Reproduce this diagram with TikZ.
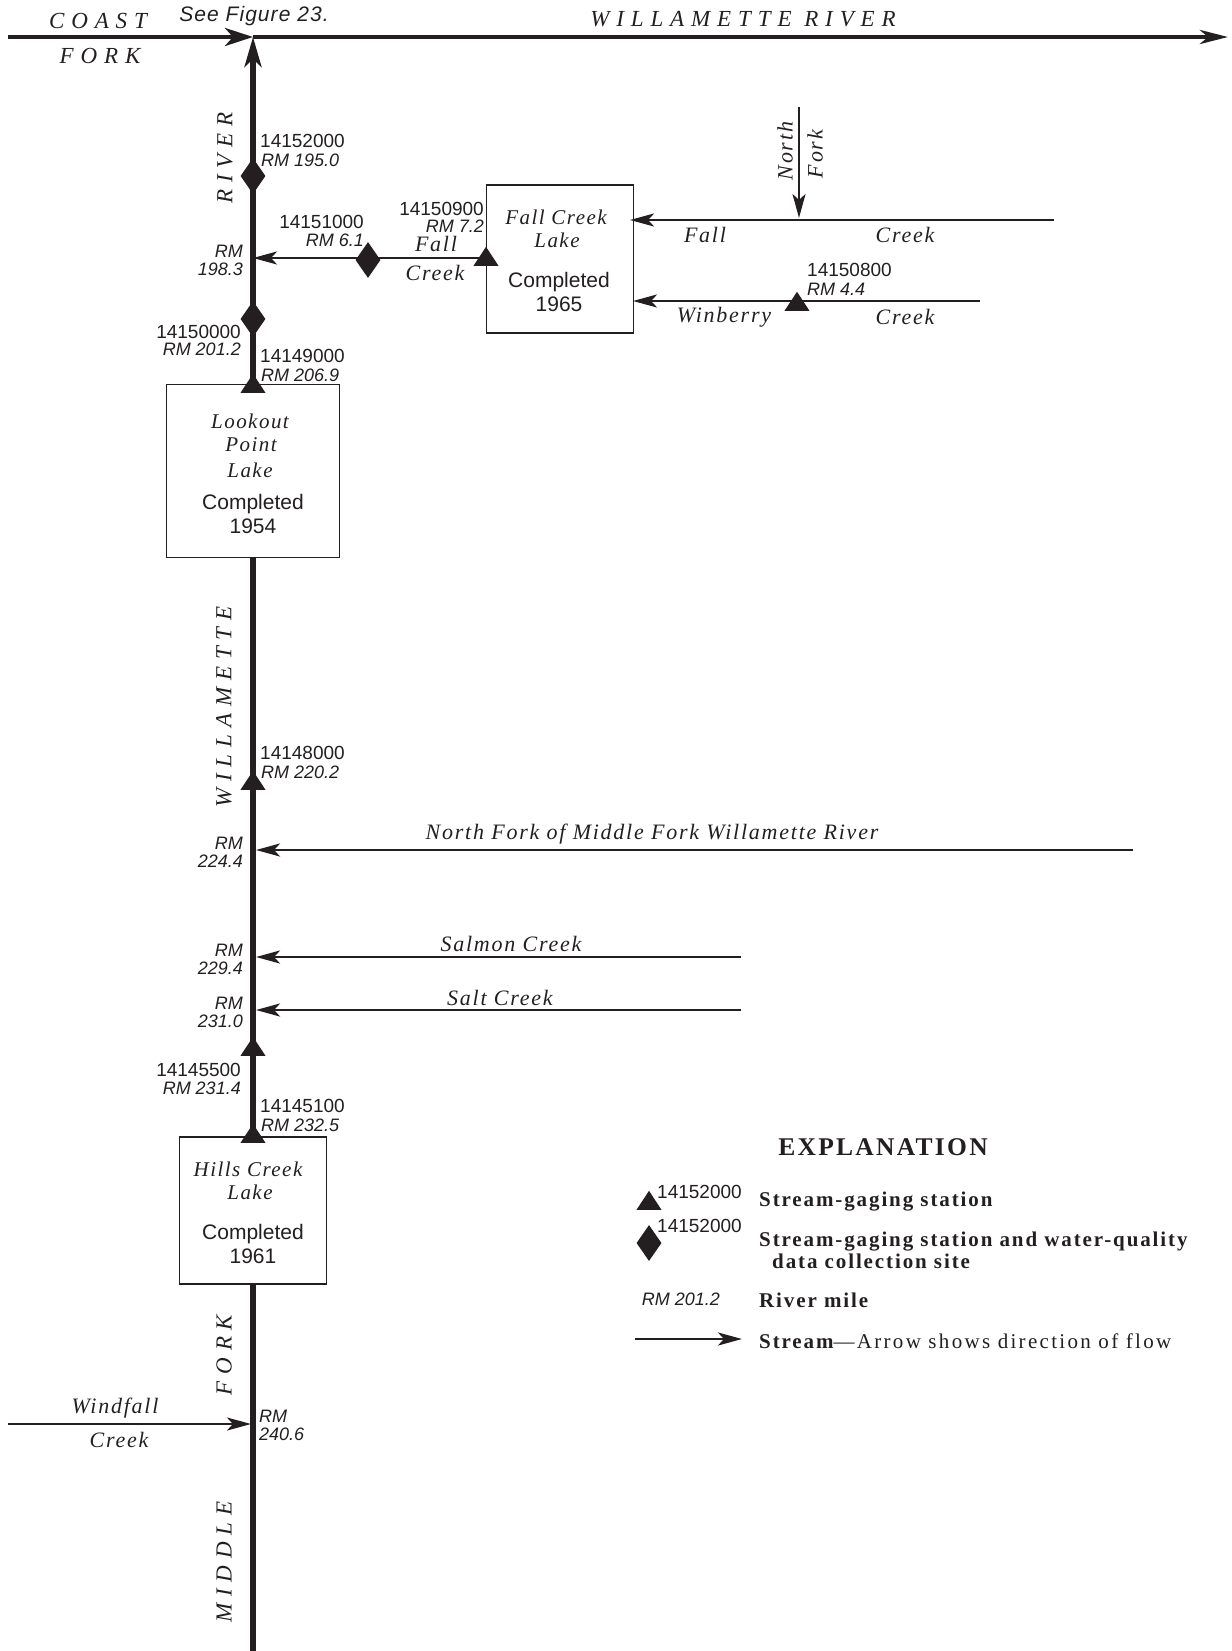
\documentclass[tikz,border=0pt]{standalone}
\usepackage{fontspec}
\usetikzlibrary{arrows.meta,shapes.geometric}
\newfontfamily\numf{Liberation Sans}
\newfontfamily\rmf{Liberation Sans}
\newfontfamily\labf[LetterSpace=8]{Liberation Serif}
\newfontfamily\lakef[LetterSpace=7]{Liberation Serif}
\newfontfamily\widef[LetterSpace=30]{Liberation Serif}
\newfontfamily\legf[LetterSpace=9]{Liberation Serif}
\newfontfamily\legrf[LetterSpace=11]{Liberation Serif}
\newfontfamily\seef[LetterSpace=5]{Liberation Sans}
\definecolor{ink}{HTML}{231F20}
\tikzset{
 gnum/.style={font=\numf\fontsize{19}{19}\selectfont,text=ink,inner sep=0pt},
 grm/.style={font=\rmf\itshape\fontsize{18}{19}\selectfont,text=ink,inner sep=0pt},
 glab/.style={font=\labf\itshape\fontsize{22}{23}\selectfont,text=ink,inner sep=0pt},
 glake/.style={font=\lakef\itshape\fontsize{21}{23}\selectfont,text=ink,inner sep=0pt},
 gwide/.style={font=\widef\itshape\fontsize{23}{24}\selectfont,text=ink,inner sep=0pt},
 gdone/.style={font=\numf\fontsize{21}{24}\selectfont,text=ink,inner sep=0pt,align=center},
 gleg/.style={font=\legf\bfseries\fontsize{21}{22}\selectfont,text=ink,inner sep=0pt,anchor=west},
 lake/.style={draw=ink,line width=1.1pt,fill=white,inner sep=0pt},
 stn/.style={isosceles triangle,isosceles triangle stretches,shape border rotate=90,fill=ink,inner sep=0pt,minimum width=25pt,minimum height=19pt,anchor=south},
 qual/.style={diamond,fill=ink,inner sep=0pt,minimum width=25pt,minimum height=36pt},
 stream/.style={draw=ink,line width=2.6pt,-{Stealth[length=24pt,width=13pt,inset=6pt]}},
}
\begin{document}
\begin{tikzpicture}[x=1pt,y=-1pt]
\useasboundingbox (0,0) rectangle (1231,1651);
% free ends and junctions
\coordinate (cfA) at (8,37);
\coordinate (jn) at (253,37);
\coordinate (wrE) at (1228,37);
\coordinate (mfB) at (253,1651);
\coordinate (ffE) at (253,258);
\coordinate (fcE) at (1054,220);
\coordinate (fcL) at (630,220);
\coordinate (nfT) at (799,107);
\coordinate (nfB) at (799,218);
\coordinate (wbE) at (980,301);
\coordinate (wbL) at (633,301);
\coordinate (nmE) at (1133,850);
\coordinate (nmR) at (256,850);
\coordinate (saE) at (741,957);
\coordinate (saR) at (256,957);
\coordinate (stE) at (741,1010);
\coordinate (stR) at (256,1010);
\coordinate (wfA) at (8,1424);
\coordinate (wfR) at (251,1424);
\coordinate (lgA) at (635,1339);
\coordinate (lgB) at (742,1339);
% rivers
\draw[draw=ink,line width=5.2pt,-{Stealth[length=30pt,width=17pt,inset=8pt]}] (mfB) -- (jn);
\draw[draw=ink,line width=4.4pt,-{Stealth[length=28pt,width=18pt,inset=8pt]}] (cfA) -- (jn);
\draw[draw=ink,line width=4.4pt,-{Stealth[length=28pt,width=14pt,inset=8pt]}] (jn) -- (wrE);
% lakes
\node[lake,minimum width=173.5pt,minimum height=173.5pt] (lp) at (253,471) {};
\node[lake,minimum width=147pt,minimum height=147pt] (hc) at (253,1210.5) {};
\node[lake,minimum width=147.5pt,minimum height=148pt] (fl) at (560,259) {};
% streams
\coordinate (fo) at (486,258);
\draw[stream] (fo) -- (ffE);
\draw[stream] (fcE) -- (fcL);
\draw[stream] (nfT) -- (nfB);
\draw[stream] (wbE) -- (wbL);
\draw[stream] (nmE) -- (nmR);
\draw[stream] (saE) -- (saR);
\draw[stream] (stE) -- (stR);
\draw[stream] (wfA) -- (wfR);
\draw[stream] (lgA) -- (lgB);
% stations
\node[stn] (s49) at (253,393) {};
\node[stn] (s48) at (253,790) {};
\node[stn] (s455) at (253,1056) {};
\node[stn] (s451) at (253,1143) {};
\node[stn] (s509) at (486,266) {};
\node[stn] (s508) at (797,311) {};
\node[stn] (lgt) at (649,1210) {};
\node[qual] (d52) at (253,176) {};
\node[qual] (d50) at (253,319) {};
\node[qual] (d51) at (368,260) {};
\node[qual] (lgd) at (649,1243) {};
% river names
\node[gwide] (t1) at (98,21) {COAST};
\node[gwide] (t2) at (100,56) {FORK};
\node[gwide] (t3) at (743,19) {WILLAMETTE RIVER};
\node[gwide,rotate=90] (t4) at (225,158) {RIVER};
\node[gwide,rotate=90] (t5) at (224,707) {WILLAMETTE};
\node[gwide,rotate=90] (t6) at (224,1355) {FORK};
\node[gwide,rotate=90] (t7) at (224,1562) {MIDDLE};
\node[font=\seef\itshape\fontsize{21}{22}\selectfont,text=ink,inner sep=0pt] (see) at (254,16) {See Figure 23.};
% gage labels
\node[gnum,anchor=west] (a1) at (260,141) {14152000};
\node[grm,anchor=west] (a2) at (261,160) {RM 195.0};
\node[gnum,anchor=west] (a3) at (260,356) {14149000};
\node[grm,anchor=west] (a4) at (261,375) {RM 206.9};
\node[gnum,anchor=east] (a5) at (241,332) {14150000};
\node[grm,anchor=east] (a6) at (241,349) {RM 201.2};
\node[gnum,anchor=east] (a7) at (364,222) {14151000};
\node[grm,anchor=east] (a8) at (364,240) {RM 6.1};
\node[gnum,anchor=east] (a9) at (484,209) {14150900};
\node[grm,anchor=east] (a10) at (484,226) {RM 7.2};
\node[gnum,anchor=west] (a11) at (807,270) {14150800};
\node[grm,anchor=west] (a12) at (807,289) {RM 4.4};
\node[gnum,anchor=west] (a13) at (260,753) {14148000};
\node[grm,anchor=west] (a14) at (261,772) {RM 220.2};
\node[gnum,anchor=east] (a15) at (241,1070) {14145500};
\node[grm,anchor=east] (a16) at (241,1088) {RM 231.4};
\node[gnum,anchor=west] (a17) at (260,1106) {14145100};
\node[grm,anchor=west] (a18) at (261,1125) {RM 232.5};
% river mile labels
\node[grm,anchor=east] (r1) at (243,251) {RM};
\node[grm,anchor=east] (r2) at (243,269) {198.3};
\node[grm,anchor=east] (r3) at (243,843) {RM};
\node[grm,anchor=east] (r4) at (243,861) {224.4};
\node[grm,anchor=east] (r5) at (243,950) {RM};
\node[grm,anchor=east] (r6) at (243,968) {229.4};
\node[grm,anchor=east] (r7) at (243,1003) {RM};
\node[grm,anchor=east] (r8) at (243,1021) {231.0};
\node[grm,anchor=west] (r9) at (259,1416) {RM};
\node[grm,anchor=west] (r10) at (259,1434) {240.6};
% stream names
\node[glab] (n1) at (436,244) {Fall};
\node[glab] (n2) at (435,273) {Creek};
\node[glab] (n3) at (705,235) {Fall};
\node[glab] (n4) at (905,235) {Creek};
\node[glab] (n5) at (724,317) {Winberry};
\node[glab] (n6) at (905,317) {Creek};
\node[glab,rotate=90] (n7) at (785,151) {North};
\node[glab,rotate=90] (n8) at (815,154) {Fork};
\node[glab] (n9) at (652,834) {North Fork of Middle Fork Willamette River};
\node[glab] (n10) at (511,944) {Salmon Creek};
\node[glab] (n11) at (500,998) {Salt Creek};
\node[glab] (n12) at (115,1408) {Windfall};
\node[glab] (n13) at (119,1440) {Creek};
% lake text
\node[glake] (l1) at (250,421) {Lookout};
\node[glake] (l2) at (251,445) {Point};
\node[glake] (l3) at (250,470) {Lake};
\node[gdone] (l4) at (253,514) {Completed\\1954};
\node[glake] (l5) at (248,1169) {Hills Creek};
\node[glake] (l6) at (250,1192) {Lake};
\node[gdone] (l7) at (253,1244) {Completed\\1961};
\node[glake] (l8) at (556,217) {Fall Creek};
\node[glake] (l9) at (557,240) {Lake};
\node[gdone] (l10) at (559,292) {Completed\\1965};
% explanation
\node[font=\legf\bfseries\fontsize{25.5}{27}\selectfont,text=ink,inner sep=0pt] (ex) at (883,1147) {EXPLANATION};
\node[gnum,anchor=west] (e1) at (657,1192) {14152000};
\node[gnum,anchor=west] (e2) at (657,1226) {14152000};
\node[grm] (e3) at (681,1299) {RM 201.2};
\node[gleg] (e4) at (759,1201.5) {Stream-gaging station};
\node[gleg] (e5) at (759,1242) {Stream-gaging station and water-quality};
\node[gleg] (e6) at (772,1261) {data collection site};
\node[gleg] (e7) at (759,1300) {River mile};
\node[gleg] (e8) at (759,1341) {Stream{\legrf\mdseries —Arrow shows direction of flow}};
\end{tikzpicture}
\end{document}
